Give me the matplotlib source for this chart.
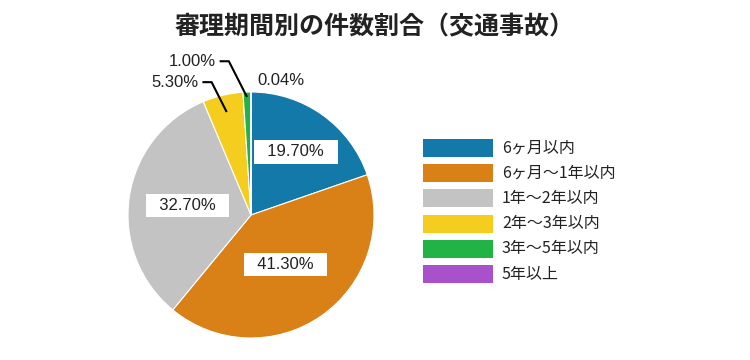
import numpy as np
import matplotlib
matplotlib.use("Agg")
import matplotlib.pyplot as plt
from matplotlib.patches import Rectangle

plt.rcParams["font.family"] = ["Noto Sans CJK JP", "DejaVu Sans"]
PCT_FONT = ["Liberation Sans", "DejaVu Sans"]

categories = ["6ヶ月以内", "6ヶ月〜1年以内", "1年〜2年以内", "2年〜3年以内", "3年〜5年以内", "5年以上"]
shares = [19.70, 41.30, 32.70, 5.30, 1.00, 0.04]
colors = ["#1279A8", "#D98117", "#C3C3C3", "#F5CD1F", "#22B346", "#A950CB"]
title = "審理期間別の件数割合（交通事故）"

fig = plt.figure(figsize=(7.5, 3.6), dpi=100)
fig.patch.set_facecolor("white")
ax = fig.add_axes([128 / 750, 22 / 360, 246 / 750, 246 / 360])

wedges, _ = ax.pie(shares, colors=colors, startangle=90, counterclock=False,
                   radius=1.0,
                   wedgeprops={"edgecolor": "white", "linewidth": 0.8})
ax.set_xlim(-1, 1)
ax.set_ylim(-1, 1)
ax.set_aspect("equal")


def mid_angle(w):
    return np.deg2rad((w.theta1 + w.theta2) / 2)


# inside labels for the big slices
inside_r = [0.63, 0.49, 0.52]
for i, r in enumerate(inside_r):
    a = mid_angle(wedges[i])
    ax.text(r * np.cos(a), r * np.sin(a), f"  {shares[i]:.2f}%  ",
            ha="center", va="center", fontsize=12, color="#222",
            family=PCT_FONT,
            bbox=dict(boxstyle="square,pad=0.25", fc="white", ec="none"))

# outside labels with leader lines
leaders = {3: (0.86, (-0.32, 1.08)), 4: (0.96, (-0.18, 1.25))}
for i, (r, elbow) in leaders.items():
    a = mid_angle(wedges[i])
    p = (r * np.cos(a), r * np.sin(a))
    ex, ey = elbow
    ax.plot([p[0], ex, ex - 0.075], [p[1], ey, ey], color="black",
            lw=1.5, clip_on=False, solid_capstyle="butt")
    ax.text(ex - 0.105, ey, f"{shares[i]:.2f}%", ha="right", va="center",
            fontsize=12, color="#222", family=PCT_FONT)

ax.text(0.05, 1.09, f"{shares[5]:.2f}%", ha="left", va="center",
        fontsize=12, color="#222", family=PCT_FONT)

fig.text(0.5, 1 - 27 / 360, title, ha="center", va="center", fontsize=18,
         fontweight="bold", color="#222")

# legend, drawn by hand so the rows keep the reference spacing
for i, (cat, col) in enumerate(zip(categories, colors)):
    top = 139 + i * 25.2
    fig.add_artist(Rectangle((423 / 750, 1 - (top + 18) / 360), 70 / 750, 18 / 360,
                             transform=fig.transFigure, facecolor=col,
                             edgecolor="none"))
    fig.text(502 / 750, 1 - (top + 9) / 360, cat, ha="left", va="center",
             fontsize=11.5, color="#222")

fig.savefig("out.png", dpi=100, facecolor="white")
